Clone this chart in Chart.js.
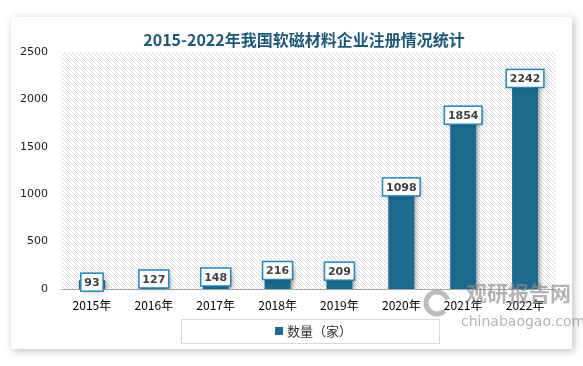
<!DOCTYPE html>
<html>
<head>
<meta charset="utf-8">
<script src="https://cdn.jsdelivr.net/npm/chart.js@4"></script>
<style>
  html, body { margin: 0; padding: 0; background: #ffffff; }
  #wrap { width: 583px; height: 366px; position: relative; }
</style>
</head>
<body>
<div id="wrap"><canvas id="chart" width="583" height="366"></canvas></div>
<script>
const titleText = '2015-2022年我国软磁材料企业注册情况统计';
const categories = ['2015年', '2016年', '2017年', '2018年', '2019年', '2020年', '2021年', '2022年'];
const counts = [93, 127, 148, 216, 209, 1098, 1854, 2242];
const seriesName = '数量（家）';
const yMax = 2500;
const yStep = 500;

const barColor = '#1c6b8f';
const cjk = '"Noto Sans CJK SC", "Noto Sans", sans-serif';

// hatched plot background
function makeHatch(ctx) {
    const c = document.createElement('canvas');
    c.width = 4; c.height = 4;
    const p = c.getContext('2d');
    p.fillStyle = '#ffffff';
    p.fillRect(0, 0, 4, 4);
    p.fillStyle = '#dadada';
    for (let i = 0; i < 4; i++) p.fillRect(i, i, 1, 1);
    return ctx.createPattern(c, 'repeat');
}

const cardPlugin = {
    id: 'card',
    beforeDraw(chart) {
        const ctx = chart.ctx;
        const a = chart.chartArea;
        ctx.save();
        // card with shadow
        ctx.shadowColor = 'rgba(0,0,0,0.25)';
        ctx.shadowBlur = 8;
        ctx.shadowOffsetX = 2;
        ctx.shadowOffsetY = 2;
        ctx.fillStyle = '#ffffff';
        ctx.fillRect(11, 17, 561, 332);
        ctx.restore();

        ctx.save();
        ctx.fillStyle = makeHatch(ctx);
        ctx.fillRect(a.left, a.top, a.right - a.left, a.bottom - a.top);
        ctx.restore();

        // title
        ctx.save();
        ctx.font = 'bold 16px ' + cjk;
        ctx.fillStyle = '#1f5877';
        ctx.textAlign = 'center';
        ctx.textBaseline = 'middle';
        ctx.fillText(titleText, 304, 40);
        ctx.restore();
    },
    beforeDatasetsDraw(chart) {
        const ctx = chart.ctx;
        ctx.save();
        ctx.shadowColor = 'rgba(0,0,0,0.35)';
        ctx.shadowBlur = 4;
        ctx.shadowOffsetX = 2;
        ctx.shadowOffsetY = 1;
    },
    afterDatasetsDraw(chart) {
        const ctx = chart.ctx;
        ctx.restore();
        // value labels
        const meta = chart.getDatasetMeta(0);
        ctx.save();
        ctx.font = 'bold 11px "DejaVu Sans", sans-serif';
        ctx.textAlign = 'center';
        ctx.textBaseline = 'middle';
        meta.data.forEach((bar, i) => {
            const txt = String(chart.data.datasets[0].data[i]);
            const w = ctx.measureText(txt).width + 7;
            const h = 18;
            const cx = bar.x;
            const cy = bar.y + 2;
            ctx.save();
            ctx.shadowColor = 'rgba(0,0,0,0.3)';
            ctx.shadowBlur = 5;
            ctx.shadowOffsetX = 1;
            ctx.shadowOffsetY = 1;
            ctx.fillStyle = '#ffffff';
            ctx.fillRect(cx - w / 2, cy - h / 2, w, h);
            ctx.restore();
            ctx.strokeStyle = '#2a86b4';
            ctx.lineWidth = 1.5;
            ctx.strokeRect(cx - w / 2, cy - h / 2, w, h);
            ctx.fillStyle = '#404040';
            ctx.fillText(txt, cx, cy + 1);
        });
        ctx.restore();
    },
    afterDraw(chart) {
        const ctx = chart.ctx;
        ctx.save();
        // legend box
        ctx.strokeStyle = '#d9d9d9';
        ctx.lineWidth = 1;
        ctx.strokeRect(181.5, 319.5, 258, 24);
        ctx.fillStyle = barColor;
        ctx.fillRect(275, 327, 8, 8);
        ctx.font = '13px ' + cjk;
        ctx.fillStyle = '#333333';
        ctx.textBaseline = 'middle';
        ctx.fillText(chart.data.datasets[0].label, 287, 331);

        // watermark
        ctx.globalAlpha = 0.65;
        ctx.strokeStyle = '#9a9a9a';
        ctx.lineWidth = 5;
        ctx.beginPath();
        ctx.arc(437, 303, 11, Math.PI * 0.25, Math.PI * 1.9);
        ctx.stroke();
        ctx.fillStyle = '#8a8a8a';
        ctx.font = 'bold 21px ' + cjk;
        ctx.fillText('观研报告网', 466, 293);
        ctx.font = '14px "DejaVu Sans", sans-serif';
        ctx.fillText('chinabaogao.com', 461, 322);
        ctx.restore();
    }
};

const ctx = document.getElementById('chart').getContext('2d');
new Chart(ctx, {
    type: 'bar',
    data: {
        labels: categories,
        datasets: [{
            label: seriesName,
            data: counts,
            backgroundColor: barColor,
            borderWidth: 0,
            categoryPercentage: 1,
            barPercentage: 0.42
        }]
    },
    options: {
        responsive: false,
        animation: false,
        layout: { padding: { left: 11, right: 27, top: 52, bottom: 49 } },
        plugins: {
            legend: { display: false },
            title: { display: false },
            tooltip: { enabled: false }
        },
        scales: {
            x: {
                grid: { display: false },
                border: { color: '#a6a6a6', width: 1 },
                ticks: {
                    color: '#000000',
                    font: { size: 12, family: cjk },
                    padding: 1,
                    maxRotation: 0
                },
                afterFit: s => { s.height = 28; }
            },
            y: {
                min: 0,
                max: yMax,
                grid: { display: false },
                border: { display: false },
                ticks: {
                    stepSize: yStep,
                    color: '#222222',
                    font: { size: 11, family: '"DejaVu Sans", sans-serif' },
                    padding: 5,
                    callback: v => String(v)
                },
                afterFit: s => { s.width = 50; }
            }
        }
    },
    plugins: [cardPlugin]
});
</script>
</body>
</html>
